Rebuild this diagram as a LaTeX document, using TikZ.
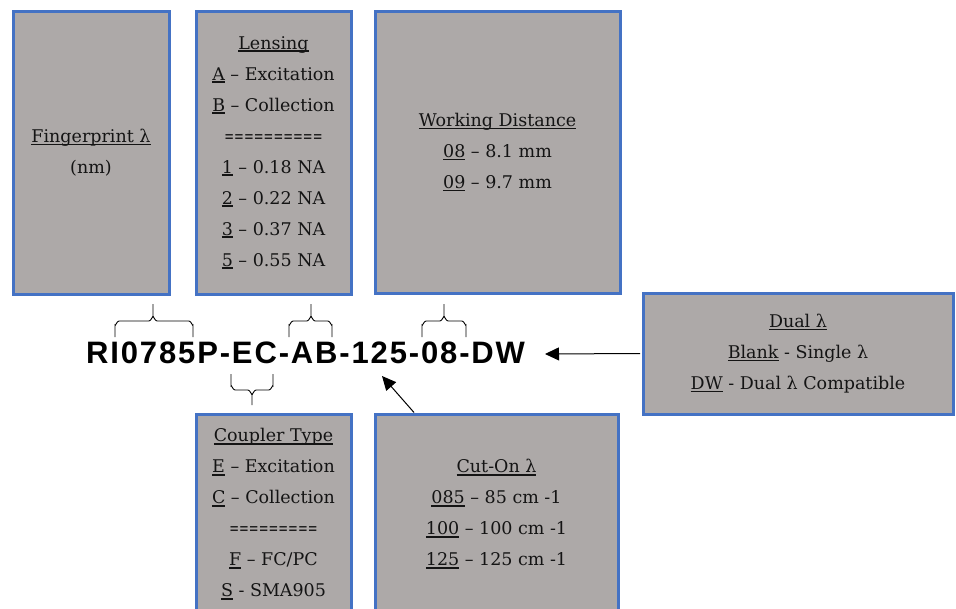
\documentclass[tikz,border=0pt]{standalone}
\usepackage{fontspec}
\usepackage{graphicx}
\setmainfont{DejaVu Serif}
\newfontfamily\codefont[LetterSpace=6]{Liberation Sans}
\usetikzlibrary{arrows.meta}
\definecolor{boxblue}{HTML}{4472C4}
\definecolor{boxgray}{HTML}{ADA9A8}
\definecolor{txt}{HTML}{141414}
\newsavebox\ulbox
\newcommand\ulin[1]{\sbox\ulbox{#1}\rlap{\rule[-2.8pt]{\wd\ulbox}{1.4pt}}\usebox\ulbox}
\newcommand\eqrow[1]{\scalebox{0.67}[1]{#1}}
\begin{document}
\begin{tikzpicture}[x=1pt,y=-1pt,
  box/.style={draw=boxblue, fill=boxgray, line width=3pt, inner sep=0pt,
    align=center, text=txt, font=\fontsize{17.5}{31}\selectfont},
  bracepath/.style={draw=black, line width=0.9pt},
  arrowline/.style={draw=black, line width=1pt, -{Triangle[length=14pt,width=13pt]}}]
\useasboundingbox (0,0) rectangle (956,608);
\clip (0,0) rectangle (956,608);
\fill[white] (0,0) rectangle (956,608);

\node[box, minimum width=156pt, minimum height=283pt] (finger) at (91,152.5)
  {\ulin{Fingerprint λ}\\(nm)};
\node[box, minimum width=155pt, minimum height=283pt] (lens) at (273.5,152.5)
  {\ulin{Lensing}\\\ulin{A} – Excitation\\\ulin{B} – Collection\\\eqrow{==========}\\
   \ulin{1} – 0.18 NA\\\ulin{2} – 0.22 NA\\\ulin{3} – 0.37 NA\\\ulin{5} – 0.55 NA};
\node[box, minimum width=245pt, minimum height=282pt] (wd) at (497.5,152)
  {\ulin{Working Distance}\\\ulin{08} – 8.1 mm\\\ulin{09} – 9.7 mm};
\node[box, minimum width=310pt, minimum height=121pt] (dual) at (798,353.5)
  {\ulin{Dual λ}\\\ulin{Blank} - Single λ\\\ulin{DW} - Dual λ Compatible};
\node[box, minimum width=155pt, minimum height=200pt] (coupler) at (273.5,514)
  {\ulin{Coupler Type}\\\ulin{E} – Excitation\\\ulin{C} – Collection\\\eqrow{=========}\\
   \ulin{F} – FC/PC\\\ulin{S} - SMA905};
\node[box, minimum width=243pt, minimum height=200pt] (cuton) at (496.5,514)
  {\ulin{Cut-On λ}\\\ulin{085} – 85 cm -1\\\ulin{100} – 100 cm -1\\\ulin{125} – 125 cm -1};

\node[anchor=base west, inner sep=0pt, text=black,
  font=\codefont\bfseries\fontsize{31}{31}\selectfont] (code) at (86,363)
  {RI0785P-EC-AB-125-08-DW};

% braces above
\foreach \xa/\xb/\xt in {115/193/153, 289/332/311, 422/466/444}{
  \draw[bracepath] (\xa,337) -- (\xa,325) to[out=-90,in=180] (\xa+4,321)
     -- (\xt-4,321) to[out=0,in=90] (\xt,317) -- (\xt,304);
  \draw[bracepath] (\xb,337) -- (\xb,325) to[out=-90,in=0] (\xb-4,321)
     -- (\xt+4,321) to[out=180,in=90] (\xt,317);
}
% brace below
\draw[bracepath] (231,374) -- (231,386) to[out=90,in=180] (235,390)
   -- (248,390) to[out=0,in=-90] (252,394) -- (252,405);
\draw[bracepath] (273,374) -- (273,386) to[out=90,in=0] (269,390)
   -- (256,390) to[out=180,in=-90] (252,394);

% arrows
\coordinate (dwtip) at (545,354);
\draw[arrowline, shorten <=1.5pt] (dual.west) -- (dwtip);
\coordinate (cuttail) at (414,412.5);
\coordinate (cuttip) at (382,376);
\draw[arrowline] (cuttail) -- (cuttip);
\end{tikzpicture}
\end{document}
